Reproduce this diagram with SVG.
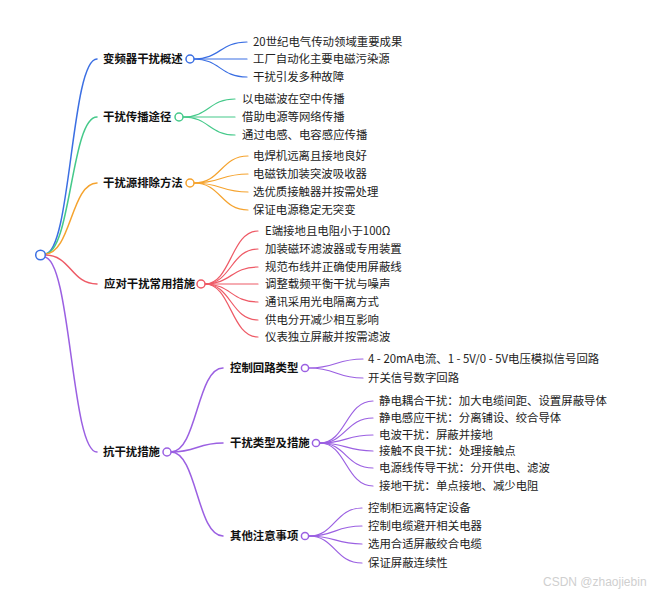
<svg xmlns="http://www.w3.org/2000/svg" width="650" height="595" viewBox="0 0 650 595">
<style>
text{font-family:"Noto Sans CJK SC","Noto Sans",sans-serif;font-size:11.4px;fill:#222}
.b{font-weight:bold;fill:#111}
.wm{font-family:"Liberation Sans","Noto Sans",sans-serif;font-size:12px;fill:#cfcfcf}
path{fill:none;stroke-linecap:round}
.l1{stroke-width:1.5}
.l2{stroke-width:1.2}
.blue{stroke:#3b6fe3}
.green{stroke:#45c98a}
.orange{stroke:#f5a32e}
.red{stroke:#ee5a66}
.purple{stroke:#9b60e2}
circle{fill:#fff;stroke-width:1.5}
</style>
<rect width="650" height="595" fill="#fff"/>
<g id="connectors">
<path class="l1 blue" d="M45 254 C71 254 71 59 97 59"/>
<path class="l1 green" d="M45 254 C71 254 71 117 97 117"/>
<path class="l1 orange" d="M45 254 C71 254 71 183 97 183"/>
<path class="l1 red" d="M45 255 C71 255 71 284 97 284"/>
<path class="l1 purple" d="M44 257 C71 257 71 452 97 452"/>
<path class="l2 blue" d="M194 59 C220 59 220 42 247 42"/>
<path class="l2 blue" d="M194 59 L247 59"/>
<path class="l2 blue" d="M194 59 C220 59 220 77 247 77"/>
<path class="l2 green" d="M183 117 C209 117 209 99 235 99"/>
<path class="l2 green" d="M183 117 L235 117"/>
<path class="l2 green" d="M183 117 C209 117 209 135 235 135"/>
<path class="l2 orange" d="M194 183 C221 183 221 156 248 156"/>
<path class="l2 orange" d="M194 183 C221 183 221 174 248 174"/>
<path class="l2 orange" d="M194 183 C221 183 221 192 248 192"/>
<path class="l2 orange" d="M194 183 C221 183 221 210 248 210"/>
<path class="l2 red" d="M205 284 C231 284 231 231 258 231"/>
<path class="l2 red" d="M205 284 C231 284 231 249 258 249"/>
<path class="l2 red" d="M205 284 C231 284 231 267 258 267"/>
<path class="l2 red" d="M205 284 L258 284"/>
<path class="l2 red" d="M205 284 C231 284 231 302 258 302"/>
<path class="l2 red" d="M205 284 C231 284 231 320 258 320"/>
<path class="l2 red" d="M205 284 C231 284 231 337 258 337"/>
<path class="l1 purple" d="M171 452 C197 452 197 368 223 368"/>
<path class="l1 purple" d="M171 452 C197 452 197 443 223 443"/>
<path class="l1 purple" d="M171 452 C197 452 197 536 223 536"/>
<path class="l2 purple" d="M309 368 C336 368 336 359 363 359"/>
<path class="l2 purple" d="M309 368 C336 368 336 378 363 378"/>
<path class="l2 purple" d="M320 443 C346 443 346 401 373 401"/>
<path class="l2 purple" d="M320 443 C346 443 346 418 373 418"/>
<path class="l2 purple" d="M320 443 C346 443 346 435 373 435"/>
<path class="l2 purple" d="M320 443 C346 443 346 451 373 451"/>
<path class="l2 purple" d="M320 443 C346 443 346 468 373 468"/>
<path class="l2 purple" d="M320 443 C346 443 346 486 373 486"/>
<path class="l2 purple" d="M309 536 C335 536 335 508 362 508"/>
<path class="l2 purple" d="M309 536 C335 536 335 526 362 526"/>
<path class="l2 purple" d="M309 536 C335 536 335 544 362 544"/>
<path class="l2 purple" d="M309 536 C335 536 335 563 362 563"/>
</g>
<g id="root"><circle cx="40.5" cy="255" r="4.8" stroke="#3b6fe3"/></g>
<g id="n1">
<text class="b" x="103" y="63">变频器干扰概述</text>
<circle cx="190" cy="59" r="4" stroke="#3b6fe3"/>
</g>
<g id="n1c">
<text x="253" y="46">20世纪电气传动领域重要成果</text>
<text x="253" y="63">工厂自动化主要电磁污染源</text>
<text x="253" y="81">干扰引发多种故障</text>
</g>
<g id="n2">
<text class="b" x="103" y="121">干扰传播途径</text>
<circle cx="179" cy="117" r="4" stroke="#45c98a"/>
</g>
<g id="n2c">
<text x="242" y="103">以电磁波在空中传播</text>
<text x="242" y="121">借助电源等网络传播</text>
<text x="242" y="139">通过电感、电容感应传播</text>
</g>
<g id="n3">
<text class="b" x="103" y="187">干扰源排除方法</text>
<circle cx="190" cy="183" r="4" stroke="#f5a32e"/>
</g>
<g id="n3c">
<text x="253" y="160">电焊机远离且接地良好</text>
<text x="253" y="178">电磁铁加装突波吸收器</text>
<text x="253" y="196">选优质接触器并按需处理</text>
<text x="253" y="214">保证电源稳定无突变</text>
</g>
<g id="n4">
<text class="b" x="104" y="288">应对干扰常用措施</text>
<circle cx="201" cy="284" r="4" stroke="#ee5a66"/>
</g>
<g id="n4c">
<text x="265" y="235">E端接地且电阻小于100Ω</text>
<text x="265" y="253">加装磁环滤波器或专用装置</text>
<text x="265" y="271">规范布线并正确使用屏蔽线</text>
<text x="265" y="288">调整载频平衡干扰与噪声</text>
<text x="265" y="306">通讯采用光电隔离方式</text>
<text x="265" y="324">供电分开减少相互影响</text>
<text x="265" y="341">仪表独立屏蔽并按需滤波</text>
</g>
<g id="n5">
<text class="b" x="103" y="456">抗干扰措施</text>
<circle cx="167" cy="452" r="4" stroke="#9b60e2"/>
</g>
<g id="n51">
<text class="b" x="230" y="372">控制回路类型</text>
<circle cx="305" cy="368" r="3.6" stroke="#9b60e2"/>
<text x="368" y="363">4 - 20mA电流、1 - 5V/0 - 5V电压模拟信号回路</text>
<text x="368" y="382">开关信号数字回路</text>
</g>
<g id="n52">
<text class="b" x="230" y="447">干扰类型及措施</text>
<circle cx="316" cy="443" r="3.6" stroke="#9b60e2"/>
<text x="379" y="405">静电耦合干扰：加大电缆间距、设置屏蔽导体</text>
<text x="379" y="422">静电感应干扰：分离铺设、绞合导体</text>
<text x="379" y="439">电波干扰：屏蔽并接地</text>
<text x="379" y="455">接触不良干扰：处理接触点</text>
<text x="379" y="472">电源线传导干扰：分开供电、滤波</text>
<text x="379" y="490">接地干扰：单点接地、减少电阻</text>
</g>
<g id="n53">
<text class="b" x="230" y="540">其他注意事项</text>
<circle cx="305" cy="536" r="3.6" stroke="#9b60e2"/>
<text x="368" y="512">控制柜远离特定设备</text>
<text x="368" y="530">控制电缆避开相关电器</text>
<text x="368" y="548">选用合适屏蔽绞合电缆</text>
<text x="368" y="567">保证屏蔽连续性</text>
</g>
<text class="wm" x="543" y="586">CSDN @zhaojiebin</text>
</svg>
